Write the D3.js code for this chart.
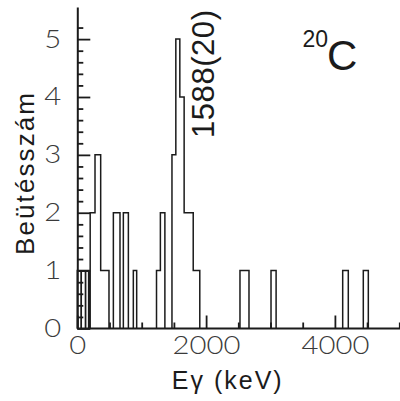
<!DOCTYPE html>
<html>
<head>
<meta charset="utf-8">
<script src="https://cdn.jsdelivr.net/npm/d3@7"></script>
<style>
  html, body { margin: 0; padding: 0; background: #fff; }
  svg { display: block; }
</style>
</head>
<body>
<svg id="chart" width="400" height="401"></svg>
<script>
// ---- data ----
const binStart = [0, 62, 130, 180, 200, 275, 363, 560, 715, 870, 1230, 1290, 1470, 1530, 1592, 1659, 1800, 2526, 3008, 4121, 4441];
const binEnd   = [58, 126, 176, 197, 275, 363, 492, 663, 793, 922, 1290, 1360, 1530, 1592, 1659, 1800, 1902, 2666, 3087, 4208, 4519];
const counts   = [1, 1, 1, 1, 2, 3, 1, 2, 2, 1, 1, 2, 3, 5, 4, 2, 1, 1, 1, 1, 1];
const yMajorTicks = [0, 1, 2, 3, 4, 5];
const yMinorTicks = [0.2,0.4,0.6,0.8,1.2,1.4,1.6,1.8,2.2,2.4,2.6,2.8,3.2,3.4,3.6,3.8,4.2,4.4,4.6,4.8,5.2];
const xMajorTicks = [0, 2000, 4000];
const xMinorTicks = [500, 1000, 1500, 2500, 3000, 3500, 4500, 5000];
const xTitle = "Eγ (keV)";
const yTitle = "Beütésszám";
const peakLabel = "1588(20)";
const massNumber = "20";
const element = "C";

// ---- layout ----
const svg = d3.select("#chart");
const x = d3.scaleLinear().domain([0, 5000]).range([77.3, 399.3]);
const y = d3.scaleLinear().domain([0, 5.555]).range([328.5, 7]);
const ink = "#1b1b1b";

// histogram step path
let p = "";
let prevEnd = null;
for (let i = 0; i < counts.length; i++) {
  const s = binStart[i], e = binEnd[i], c = counts[i];
  if (prevEnd !== null && s === prevEnd) {
    p += `L${x(s)},${y(c)}`;
  } else {
    if (prevEnd !== null) p += `L${x(prevEnd)},${y(0)}`;
    p += `M${x(s)},${y(0)}L${x(s)},${y(c)}`;
  }
  p += `L${x(e)},${y(c)}`;
  prevEnd = e;
}
p += `L${x(prevEnd)},${y(0)}`;
svg.append("path").attr("d", p).attr("fill", "none")
  .attr("stroke", ink).attr("stroke-width", 1.5).attr("stroke-linejoin", "miter");

// axes
const tickFont = "Lato, 'Open Sans', 'Liberation Sans', sans-serif";
function styleAxis(g) {
  g.select(".domain").attr("stroke", ink).attr("stroke-width", 2);
  g.selectAll(".tick line").attr("stroke", ink).attr("stroke-width", 1.8);
  g.selectAll(".tick text").attr("fill", "#3a3a3a")
    .attr("font-family", tickFont).attr("font-weight", 300).attr("font-size", 25)
    .attr("lengthAdjust", "spacingAndGlyphs")
    .attr("textLength", function() { return 17 * this.textContent.length; });
}

const gy = svg.append("g").attr("transform", `translate(${x(0)},0)`)
  .call(d3.axisLeft(y).tickValues(yMajorTicks).tickFormat(d3.format("d"))
    .tickSizeInner(-13).tickSizeOuter(0).tickPadding(16));
styleAxis(gy);
svg.append("g").attr("transform", `translate(${x(0)},0)`)
  .call(d3.axisLeft(y).tickValues(yMinorTicks).tickFormat("").tickSizeInner(-6).tickSizeOuter(0))
  .call(g => { g.select(".domain").remove(); g.selectAll(".tick line").attr("stroke", ink).attr("stroke-width", 1.8); });

const gx = svg.append("g").attr("transform", `translate(0,${y(0)})`)
  .call(d3.axisBottom(x).tickValues(xMajorTicks).tickFormat(d3.format("d"))
    .tickSizeInner(-13).tickSizeOuter(0).tickPadding(8));
styleAxis(gx);
gx.select(".domain").attr("d", `M${x(0)},0H400`);
svg.append("g").attr("transform", `translate(0,${y(0)})`)
  .call(d3.axisBottom(x).tickValues(xMinorTicks).tickFormat("").tickSizeInner(-6).tickSizeOuter(0))
  .call(g => { g.select(".domain").remove(); g.selectAll(".tick line").attr("stroke", ink).attr("stroke-width", 1.8); });

// titles
const titleFont = "'Liberation Sans', Arial, sans-serif";
svg.append("text").text(xTitle)
  .attr("x", 226.7).attr("y", 388.5).attr("text-anchor", "middle")
  .attr("font-family", titleFont).attr("font-size", 25).attr("fill", ink)
  .attr("textLength", 110).attr("lengthAdjust", "spacing");
svg.append("text").text(yTitle)
  .attr("transform", "translate(33.5,174) rotate(-90)").attr("text-anchor", "middle")
  .attr("font-family", titleFont).attr("font-size", 26).attr("fill", ink)
  .attr("textLength", 162).attr("lengthAdjust", "spacing");

// annotations
svg.append("text").text(peakLabel)
  .attr("transform", "translate(214,138) rotate(-90)").attr("text-anchor", "start")
  .attr("font-family", titleFont).attr("font-size", 31).attr("fill", ink)
  .attr("textLength", 128).attr("lengthAdjust", "spacing");
svg.append("text").text(massNumber)
  .attr("x", 302.5).attr("y", 46.7)
  .attr("font-family", titleFont).attr("font-size", 23).attr("fill", ink);
svg.append("text").text(element)
  .attr("x", 327).attr("y", 70)
  .attr("font-family", titleFont).attr("font-size", 42).attr("fill", ink);
</script>
</body>
</html>
